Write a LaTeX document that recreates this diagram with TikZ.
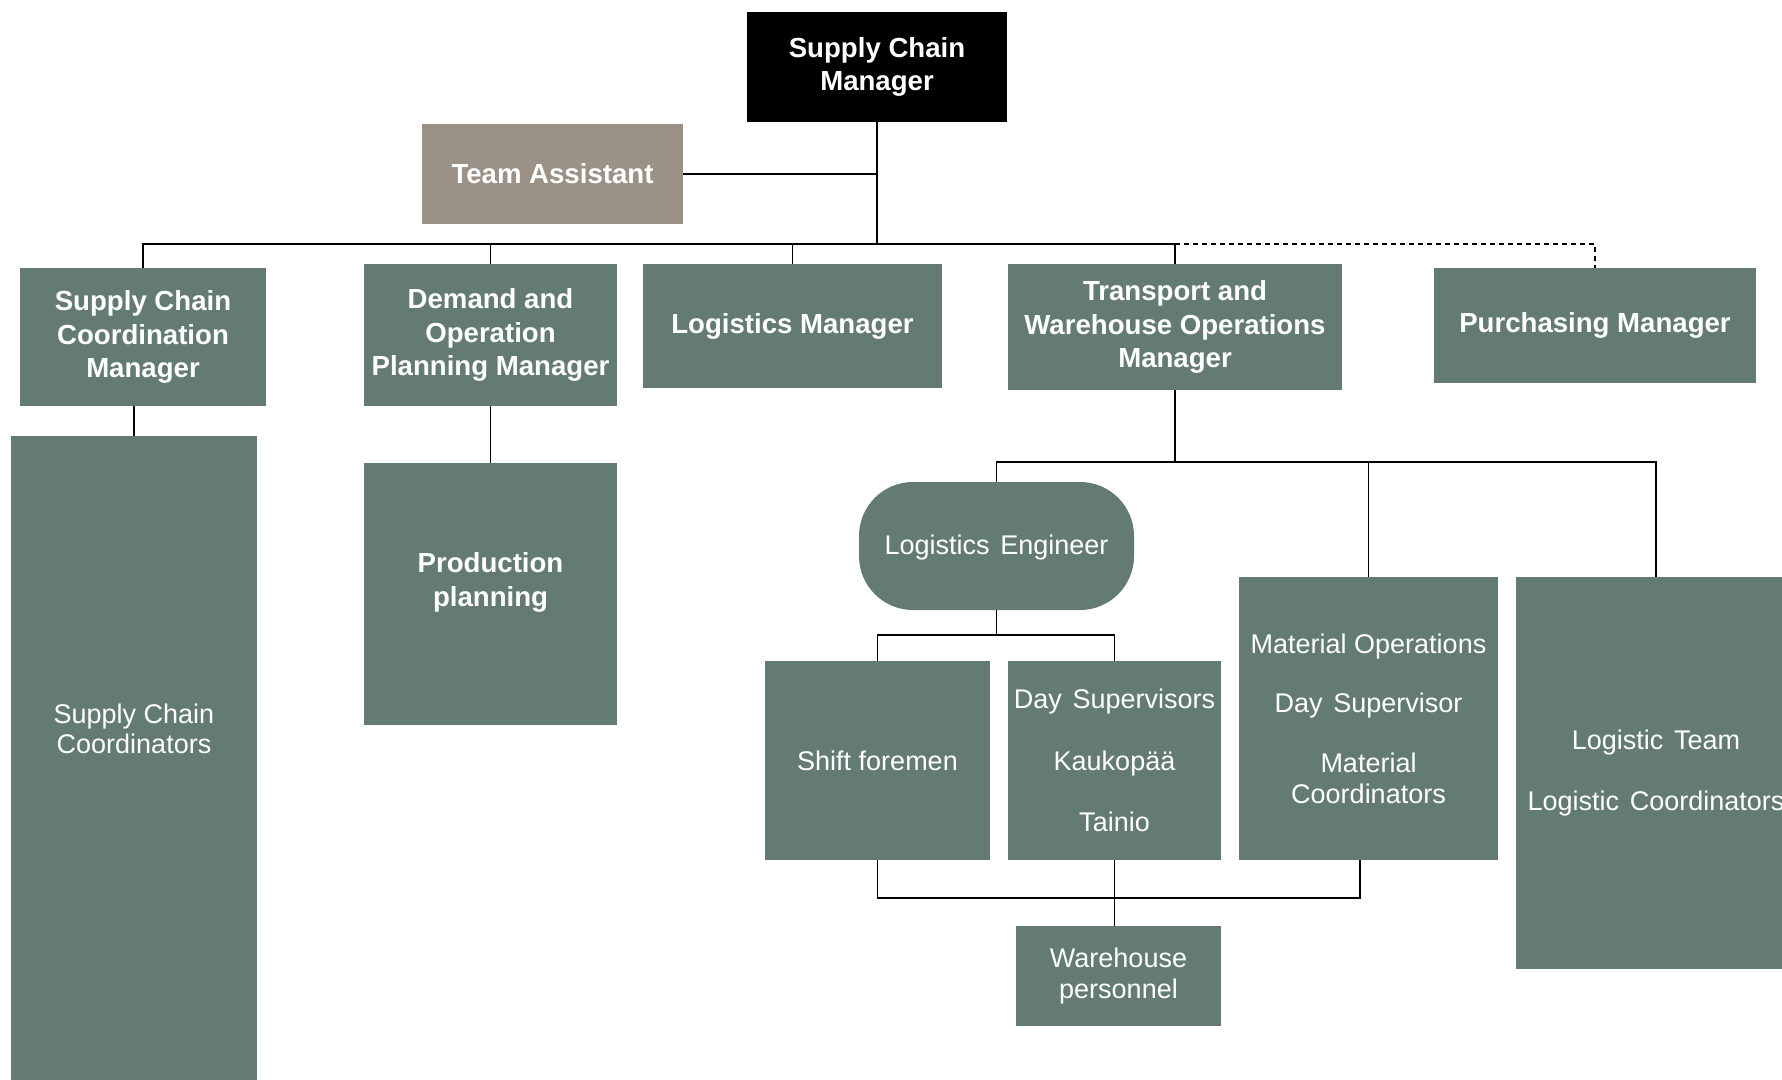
\documentclass[tikz,border=0pt]{standalone}
\usepackage{fontspec}
\setmainfont{Liberation Sans}
\definecolor{sage}{HTML}{637B74}
\definecolor{taupe}{HTML}{9B9187}
\newcommand\wgap{\hspace{0.4em}}
\begin{document}
\begin{tikzpicture}[x=0.5pt,y=-0.5pt,
  box/.style={fill=sage, text=white, inner sep=0pt, align=center,
              font=\bfseries\fontsize{13.8}{16.8}\selectfont},
  plainbox/.style={box, font=\fontsize{13.5}{15.3}\selectfont},
  boxtext/.style={text=white, inner sep=0pt, align=center},
  link/.style={line width=0.9pt, black},
  dottedlink/.style={link, dash pattern=on 2.5pt off 2pt}
]
\useasboundingbox (0,0) rectangle (1782,1080);
\clip (0,0) rectangle (1782,1080);

% top level
\node[box, fill=black, minimum width=130pt, minimum height=55pt] (scm) at (877,67) {Supply Chain\\Manager};
\node[box, fill=taupe, minimum width=130.5pt, minimum height=50pt] (ta) at (552.5,174) {Team Assistant};

% managers
\node[box, minimum width=123pt, minimum height=69pt] (sccm) at (143,337) {Supply Chain\\Coordination\\Manager};
\node[box, minimum width=126.5pt, minimum height=71pt] (dopm) at (490.5,335) {Demand and\\Operation\\Planning Manager};
\node[box, minimum width=149.5pt, minimum height=62pt] (lm) at (792.5,326) {Logistics Manager};
\node[box, minimum width=167pt, minimum height=63pt] (twom) at (1175,327) {Transport and\\Warehouse Operations\\Manager};
\node[box, minimum width=161pt, minimum height=57.5pt] (pm) at (1595,325.5) {Purchasing Manager};

% teams under the managers
\node[box, minimum width=123pt, minimum height=327pt, anchor=north] (scc) at (134,436) {};
\node[boxtext, font=\fontsize{13.5}{15.3}\selectfont] (scctext) at (134,729) {Supply Chain\\Coordinators};
\node[box, minimum width=126.5pt, minimum height=131pt] (pp) at (490.5,594) {};
\node[boxtext, font=\bfseries\fontsize{13.8}{17}\selectfont] (pptext) at (490.5,582) {Production\\planning};

% transport and warehouse operations
\node[box, rounded corners=27pt, font=\fontsize{13.5}{15.3}\selectfont, minimum width=137.5pt, minimum height=64pt,
      text depth=1.5pt] (le) at (996.5,546) {Logistics\wgap Engineer};
\node[plainbox, minimum width=112.5pt, minimum height=99.5pt] (sf) at (877.5,760.5) {Shift foremen};
\node[plainbox, minimum width=106.5pt, minimum height=99.5pt] (ds) at (1114.5,760.5) {Day\wgap Supervisors\\[15.3pt]Kaukopää\\[15.3pt]Tainio};
\node[plainbox, minimum width=129.5pt, minimum height=141.5pt] (mo) at (1368.5,718.5) {Material Operations\\[14.5pt]Day\wgap Supervisor\\[14.5pt]Material\\Coordinators};
\node[plainbox, minimum width=140pt, minimum height=196pt] (lt) at (1656,773) {Logistic\wgap Team\\[15.3pt]Logistic\wgap Coordinators};
\node[plainbox, minimum width=102.5pt, minimum height=50pt] (wp) at (1118.5,976) {Warehouse\\personnel};

% main reporting lines
\coordinate (bus) at (scm.south |- 0,244);
\draw[link] (scm.south) -- (bus);
\draw[link] (ta.east) -- (ta.east -| scm.south);
\draw[link] (sccm.north) -- (sccm.north |- bus) -- (twom.north |- bus) -- (twom.north);
\draw[link] (dopm.north) -- (dopm.north |- bus);
\draw[link] (lm.north) -- (lm.north |- bus);
\draw[dottedlink] (twom.north |- bus) -- (pm.north |- bus) -- (pm.north);

\draw[link] (scc.north) -- (scc.north |- sccm.south);
\draw[link] (dopm.south) -- (pp.north);

% transport and warehouse branch
\coordinate (tbus) at (twom.south |- 0,462);
\draw[link] (twom.south) -- (tbus);
\draw[link] (le.north) -- (le.north |- tbus) -- (lt.north |- tbus) -- (lt.north);
\draw[link] (mo.north) -- (mo.north |- tbus);

\coordinate (lbus) at (le.south |- 0,635);
\draw[link] (le.south) -- (lbus);
\draw[link] (sf.north) -- (sf.north |- lbus) -- (ds.north |- lbus) -- (ds.north);

\coordinate (wbus) at (ds.south |- 0,898);
\coordinate (mob) at ([xshift=-4.25pt]mo.south);
\draw[link] (sf.south) -- (sf.south |- wbus) -- (mob |- wbus) -- (mob);
\draw[link] (ds.south) -- (ds.south |- wp.north);
\end{tikzpicture}
\end{document}
